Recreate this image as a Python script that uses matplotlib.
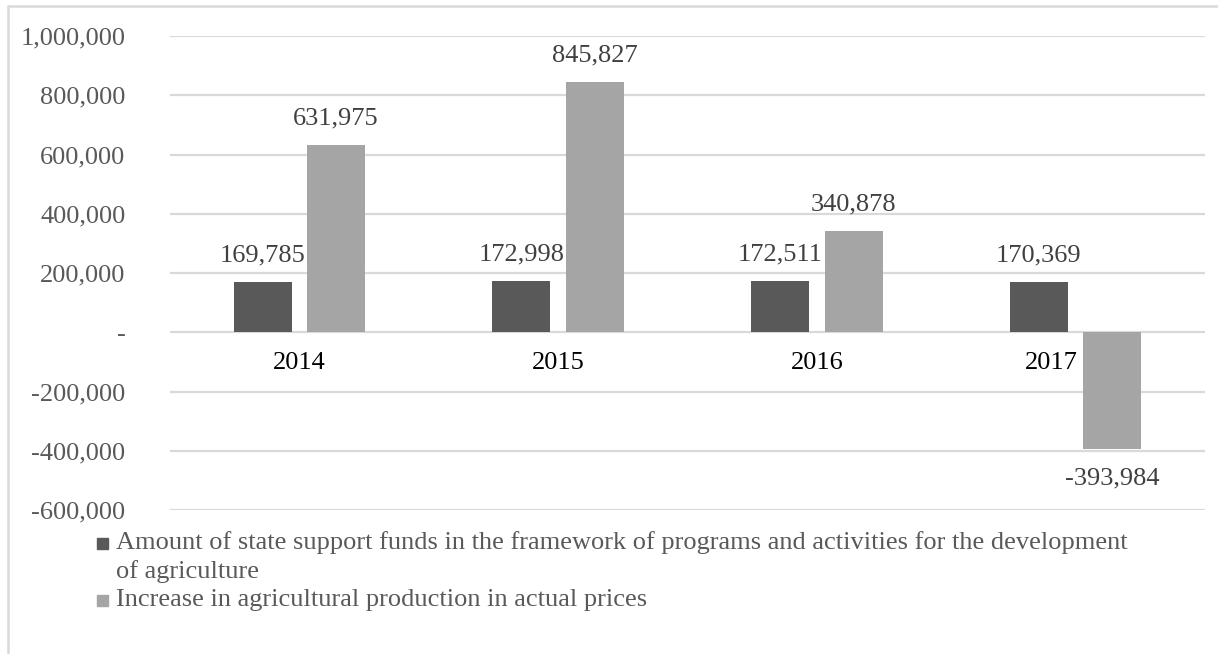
import matplotlib
matplotlib.use("Agg")
import matplotlib.pyplot as plt
from matplotlib.patches import Rectangle
import numpy as np

years = ["2014", "2015", "2016", "2017"]
state_support = [169785, 172998, 172511, 170369]
production_increase = [631975, 845827, 340878, -393984]
series_names = [
    "Amount of state support funds in the framework of programs and activities for the development",
    "of agriculture",
    "Increase in agricultural production in actual prices",
]
yticks = [-600000, -400000, -200000, 0, 200000, 400000, 600000, 800000, 1000000]

DARK = "#595959"
LIGHT = "#A5A5A5"
GRID = "#D9D9D9"
FS = 19

plt.rcParams["font.family"] = ["Liberation Serif", "DejaVu Serif"]

W, H = 1218, 654
fig = plt.figure(figsize=(W / 100, H / 100), dpi=100)
ax = fig.add_axes([170 / W, 1 - 510 / H, (1205 - 170) / W, (510 - 36) / H])

x = np.arange(len(years))
bw = 0.225
off = 0.142
b1 = ax.bar(x - off, state_support, bw, color=DARK, zorder=3)
b2 = ax.bar(x + off, production_increase, bw, color=LIGHT, zorder=3)

ax.set_xlim(-0.5, len(years) - 0.5)
ax.set_ylim(yticks[0], yticks[-1])
ax.set_yticks(yticks)
ax.set_yticklabels(["-" if v == 0 else f"{v:,}" for v in yticks], fontsize=FS, color="#595959")
ax.tick_params(axis="y", length=0, pad=32)
ax.set_xticks([])
ax.grid(axis="y", color=GRID, linewidth=1.6, zorder=0)
for s in ax.spines.values():
    s.set_visible(False)

def label(bars, vals):
    for r, v in zip(bars, vals):
        cx = r.get_x() + r.get_width() / 2
        dy = 19 if v >= 0 else -21
        ax.annotate(f"{v:,}", (cx, v), xytext=(0, dy), textcoords="offset points",
                    ha="center", va="center", fontsize=FS, color="#404040", zorder=2)

label(b1, state_support)
label(b2, production_increase)

for i, yr in enumerate(years):
    if production_increase[i] < 0:
        ax.annotate(yr, (x[i] + off - bw / 2, 0), xytext=(-4, -22), textcoords="offset points",
                    ha="right", va="center", fontsize=FS, color="black", zorder=4)
    else:
        ax.annotate(yr, (x[i], 0), xytext=(0, -22), textcoords="offset points",
                    ha="center", va="center", fontsize=FS, color="black", zorder=4)

# legend (manual)
for c, yy in zip([DARK, LIGHT], [543, 600]):
    fig.patches.append(Rectangle((97 / W, 1 - (yy + 5.5) / H), 11 / W, 11 / H,
                                 transform=fig.transFigure, color=c))
for name, yy in zip(series_names, [543, 572, 600]):
    fig.text(116 / W, 1 - yy / H, name, fontsize=FS, color="#595959", va="center")

# outer frame
fig.patches.append(Rectangle((8 / W, -0.1), 1.2, 1.1 - 6 / H, transform=fig.transFigure,
                             fill=False, edgecolor=GRID, linewidth=1.8))

fig.savefig("out.png", dpi=100)
